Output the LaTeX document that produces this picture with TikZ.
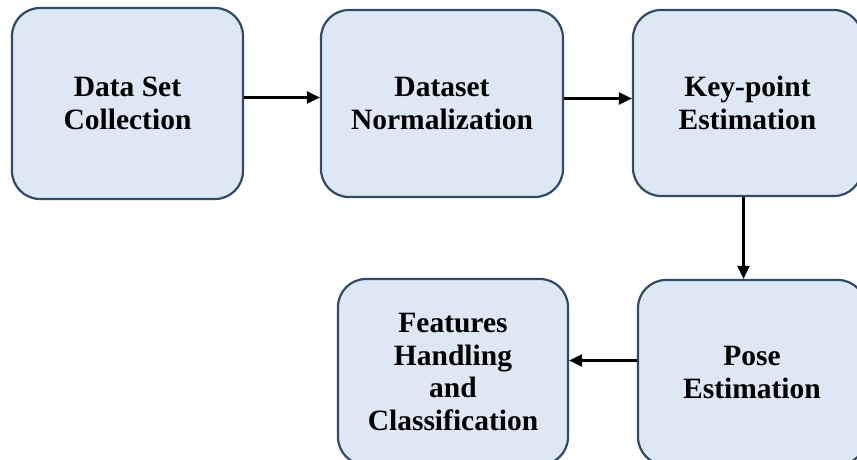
\documentclass[tikz,border=0pt]{standalone}
\usepackage{fontspec}
\setmainfont{Liberation Serif}
\usetikzlibrary{arrows.meta}
\definecolor{boxfill}{RGB}{221,232,244}
\definecolor{boxline}{RGB}{50,74,101}
\tikzset{
  stage/.style={draw=boxline, fill=boxfill, line width=2.2pt, rounded corners=28pt,
    align=center, font=\fontsize{29.5}{32.5}\selectfont\bfseries, inner sep=0pt},
  arr/.style={line width=2.2pt, -{Triangle[length=13pt,width=12pt]}}
}
\begin{document}
\begin{tikzpicture}[x=1pt,y=-1pt]
\useasboundingbox (0,0) rectangle (857,460);
\clip (0,0) rectangle (857,460);
\node[stage, minimum width=231pt, minimum height=191pt] (b1) at (127.5,103.5) {Data Set\\Collection};
\node[stage, minimum width=242pt, minimum height=187pt] (b2) at (442,103.5) {Dataset\\Normalization};
\node[stage, minimum width=229pt, minimum height=186pt] (b3) at (747.5,103) {Key-point\\Estimation};
\node[stage, minimum width=228pt, minimum height=185pt] (b4) at (752,372.5) {Pose\\Estimation};
\node[stage, minimum width=230pt, minimum height=186pt] (b5) at (453,372) {Features\\Handling\\and\\Classification};
\draw[arr] ([yshift=6pt]b1.east) -- ([yshift=6pt]b1.east -| b2.west);
\draw[arr] ([yshift=5pt]b2.east) -- ([yshift=5pt]b2.east -| b3.west);
\draw[arr] ([xshift=-4pt]b3.south) -- ([xshift=-4pt]b3.south |- b4.north);
\draw[arr] ([yshift=12pt]b4.west) -- ([yshift=12pt]b4.west -| b5.east);
\end{tikzpicture}
\end{document}
